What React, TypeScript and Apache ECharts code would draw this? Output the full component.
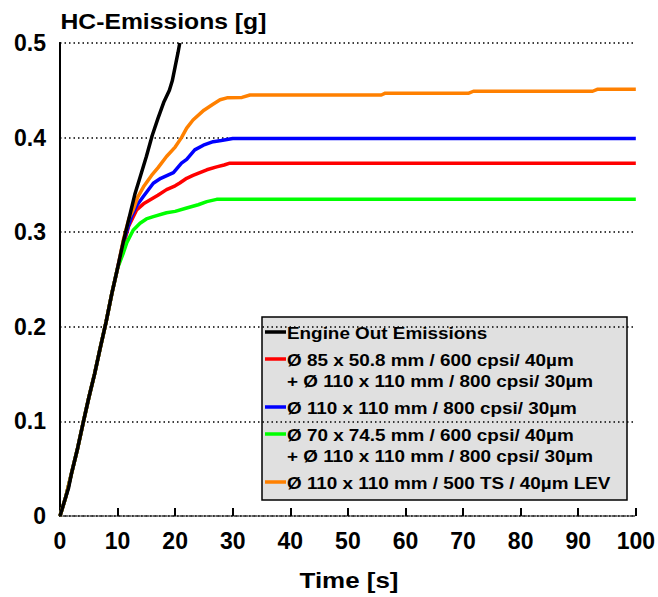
import React, { useEffect, useRef } from "react";
import * as echarts from "echarts";

// Cumulative HC emissions [g] over time [s], as [time, grams] pairs
const engineOut: [number, number][] = [
  [0, 0], [0.5, 0.01], [1, 0.02], [1.5, 0.03], [2, 0.045], [3, 0.07], [4, 0.098],
  [5, 0.125], [6, 0.15], [7, 0.178], [8, 0.205], [9, 0.235], [10, 0.262],
  [11, 0.29], [12, 0.315], [13, 0.34], [14, 0.36], [15, 0.38], [16, 0.402],
  [17, 0.42], [18, 0.437], [19, 0.45], [19.5, 0.46], [20, 0.475], [20.5, 0.49],
  [20.8, 0.5],
];

const d85Plus110: [number, number][] = [
  [0, 0], [1, 0.02], [2, 0.045], [3, 0.07], [4, 0.098], [5, 0.125], [6, 0.15],
  [7, 0.178], [8, 0.205], [9, 0.235], [10, 0.262], [11, 0.286], [11.9, 0.306],
  [13.3, 0.3235], [14.5, 0.33], [15.6, 0.334], [17, 0.339], [18.5, 0.345],
  [20, 0.349], [20.8, 0.352], [22, 0.357], [23.1, 0.36], [24.3, 0.363],
  [25.5, 0.366], [27.2, 0.369], [28.5, 0.371], [29.5, 0.373], [100, 0.373],
];

const d110Only: [number, number][] = [
  [0, 0], [1, 0.02], [2, 0.045], [3, 0.07], [4, 0.098], [5, 0.125], [6, 0.15],
  [7, 0.178], [8, 0.205], [9, 0.235], [10, 0.262], [11, 0.29], [12.4, 0.3165],
  [13.3, 0.328], [14.5, 0.338], [16.2, 0.3517], [17.5, 0.357], [19.7, 0.363],
  [21.1, 0.373], [22, 0.377], [23.4, 0.387], [24.9, 0.392], [26.6, 0.3957],
  [28, 0.397], [30, 0.399], [100, 0.399],
];

const d70Plus110: [number, number][] = [
  [0, 0], [1, 0.02], [2, 0.045], [3, 0.07], [4, 0.098], [5, 0.125], [6, 0.15],
  [7, 0.178], [8, 0.205], [9, 0.235], [10, 0.262], [11, 0.278], [11.6, 0.289],
  [12.7, 0.302], [13.9, 0.3095], [15, 0.314], [16.2, 0.3165], [18.5, 0.3205],
  [20, 0.322], [22, 0.3256], [24, 0.329], [25.5, 0.3323], [27.2, 0.3347],
  [100, 0.3347],
];

const d110Ts500: [number, number][] = [
  [0, 0], [1, 0.02], [2, 0.045], [3, 0.07], [4, 0.098], [5, 0.125], [6, 0.15],
  [7, 0.178], [8, 0.205], [9, 0.235], [10, 0.262], [11, 0.292], [12, 0.315],
  [12.7, 0.3235], [13.5, 0.337], [14.5, 0.348], [15.9, 0.36], [17, 0.368],
  [18.5, 0.38], [20, 0.39], [21.1, 0.4], [22, 0.41], [23.1, 0.4186], [25, 0.429],
  [26.5, 0.435], [27.8, 0.44], [29, 0.442], [31.6, 0.4425], [33, 0.445],
  [55.8, 0.445], [56.5, 0.447], [71, 0.447], [71.8, 0.449], [92.5, 0.449],
  [93.3, 0.451], [100, 0.451],
];

const seriesNames = [
  "Engine Out Emissions",
  "Ø 85 x 50.8 mm / 600 cpsi/ 40µm\n+ Ø 110 x 110 mm / 800 cpsi/ 30µm",
  "Ø 110 x 110 mm / 800 cpsi/ 30µm",
  "Ø 70 x 74.5 mm / 600 cpsi/ 40µm\n+ Ø 110 x 110 mm / 800 cpsi/ 30µm",
  "Ø 110 x 110 mm / 500 TS / 40µm LEV",
];
const seriesData = [engineOut, d85Plus110, d110Only, d70Plus110, d110Ts500];
const seriesColors = ["#000000", "#ff0000", "#0000ff", "#00ff00", "#ff8000"];

const yAxisTitle = "HC-Emissions [g]";
const xAxisTitle = "Time [s]";

const FONT = "'Liberation Sans', Arial, Helvetica, sans-serif";

function buildLegend() {
  const left = 262;
  const top = 317;
  const width = 365;
  const height = 183;
  const children: any[] = [
    {
      type: "rect",
      shape: { x: left, y: top, width, height },
      style: { fill: "#e0e0e0", stroke: "#000", lineWidth: 1.5 },
    },
  ];
  let y = 334;
  seriesNames.forEach((name, i) => {
    const lines = name.split("\n");
    children.push({
      type: "line",
      shape: { x1: 265, y1: y - 2, x2: 286, y2: y - 2 },
      style: { stroke: seriesColors[i], lineWidth: 3.5 },
    });
    lines.forEach((ln, j) => {
      children.push({
        type: "text",
        x: 287,
        y,
        scaleX: 1.18,
        style: {
          text: ln,
          fill: "#000",
          font: `bold 16px ${FONT}`,
          textVerticalAlign: "middle",
          textAlign: "left",
        },
      });
      if (j < lines.length - 1) y += 21;
    });
    y += 27;
  });
  return { type: "group", children };
}

export default function App() {
  const ref = useRef<HTMLDivElement>(null);

  useEffect(() => {
    document.body.style.margin = "0";
    if (!ref.current) return;
    const chart = echarts.init(ref.current, undefined, { renderer: "svg" });
    // Reference curves first so the engine-out curve sits on top
    const order = [1, 2, 3, 4, 0];
    chart.setOption({
      animation: false,
      backgroundColor: "#ffffff",
      textStyle: { fontFamily: FONT },
      grid: { left: 60, top: 43, right: 22, bottom: 81, containLabel: false },
      xAxis: {
        type: "value",
        min: 0,
        max: 100,
        interval: 10,
        axisLine: { show: true, lineStyle: { color: "#333", width: 1.5, type: "dotted" } },
        axisTick: { show: true, inside: true, length: 8, lineStyle: { color: "#000", width: 2 } },
        axisLabel: {
          fontFamily: FONT,
          fontWeight: "bold",
          fontSize: 23,
          color: "#000",
          margin: 13,
        },
        splitLine: { show: false },
      },
      yAxis: [
        {
          type: "value",
          min: 0,
          max: 0.5,
          interval: 0.1,
          axisLine: { show: true, onZero: false, lineStyle: { color: "#000", width: 2 } },
          axisTick: { show: false },
          axisLabel: {
            fontFamily: FONT,
            fontWeight: "bold",
            fontSize: 23,
            color: "#000",
            margin: 14,
          },
          splitLine: { show: true, lineStyle: { color: "#000", width: 1.5, type: [1.5, 3] } },
        },
        {
          type: "value",
          position: "right",
          min: 0,
          max: 0.5,
          interval: 0.1,
          axisLine: { show: true, lineStyle: { color: "#000", width: 2 } },
          axisTick: { show: false },
          axisLabel: { show: false },
          splitLine: { show: false },
        },
      ],
      series: order.map((i) => ({
        type: "line",
        name: seriesNames[i],
        data: seriesData[i],
        showSymbol: false,
        symbol: "none",
        smooth: false,
        clip: true,
        lineStyle: { color: seriesColors[i], width: 3.5 },
        itemStyle: { color: seriesColors[i] },
        z: i === 0 ? 5 : 3,
      })),
      graphic: [
        {
          type: "text",
          x: 60.5,
          y: 32,
          scaleX: 1.075,
          style: {
            text: yAxisTitle,
            fill: "#000",
            font: `bold 23px ${FONT}`,
            textAlign: "left",
            textVerticalAlign: "bottom",
          },
        },
        {
          type: "text",
          x: 349,
          y: 580,
          scaleX: 1.18,
          style: {
            text: xAxisTitle,
            fill: "#000",
            font: `bold 22px ${FONT}`,
            textAlign: "center",
            textVerticalAlign: "middle",
          },
        },
        buildLegend(),
      ],
    });
    return () => chart.dispose();
  }, []);

  return <div ref={ref} style={{ width: 658, height: 597 }} />;
}
